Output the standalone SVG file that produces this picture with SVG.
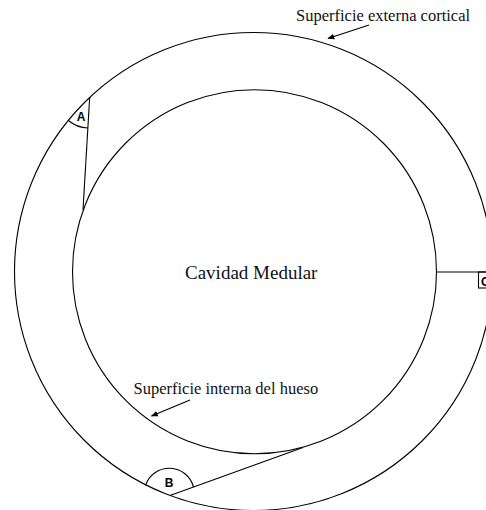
<svg xmlns="http://www.w3.org/2000/svg" width="486" height="510" viewBox="0 0 486 510">
<style>
.ln{fill:none;stroke:#000;stroke-width:1.1}
.serif{font-family:"Liberation Serif","Times New Roman",serif;fill:#111}
.lbl{font-family:"Liberation Sans",Arial,sans-serif;font-weight:bold;font-size:12px;fill:#000}
</style>
<defs>
<marker id="ah" viewBox="0 0 10 10" refX="9" refY="5" markerWidth="7" markerHeight="7" orient="auto" markerUnits="userSpaceOnUse">
<path d="M0,1 L10,5 L0,9 z" fill="#000"/>
</marker>
</defs>
<rect width="486" height="510" fill="#fff"/>
<g id="outer"><circle class="ln" cx="253.5" cy="271.5" r="239"/></g>
<g id="inner"><circle class="ln" cx="254.5" cy="271.7" r="182"/></g>
<g id="angleA">
<line class="ln" x1="89.7" y1="97" x2="83" y2="210"/>
<path class="ln" d="M68.5,120.5 A31,31 0 0 0 87.9,128"/>
<text class="lbl" x="81" y="121" text-anchor="middle">A</text>
</g>
<g id="angleB">
<line class="ln" x1="170" y1="495.5" x2="303" y2="447.5"/>
<path class="ln" d="M145.5,485.5 A25,25 0 0 1 193.5,487"/>
<text class="lbl" x="169" y="487" text-anchor="middle">B</text>
</g>
<g id="angleC">
<line class="ln" x1="436.5" y1="272" x2="486" y2="272"/>
<rect class="ln" x="478.5" y="272" width="14" height="16"/>
<text class="lbl" x="481" y="286">C</text>
</g>
<g id="labels">
<text class="serif" x="296" y="21" font-size="16.5">Superficie externa cortical</text>
<text class="serif" x="185" y="278.5" font-size="19">Cavidad Medular</text>
<text class="serif" x="133.5" y="394" font-size="16.5">Superficie interna del hueso</text>
</g>
<g id="connectors">
<line class="ln" x1="369" y1="25" x2="328" y2="38.5" marker-end="url(#ah)"/>
<line class="ln" x1="190" y1="400" x2="151.5" y2="416" marker-end="url(#ah)"/>
</g>
</svg>
